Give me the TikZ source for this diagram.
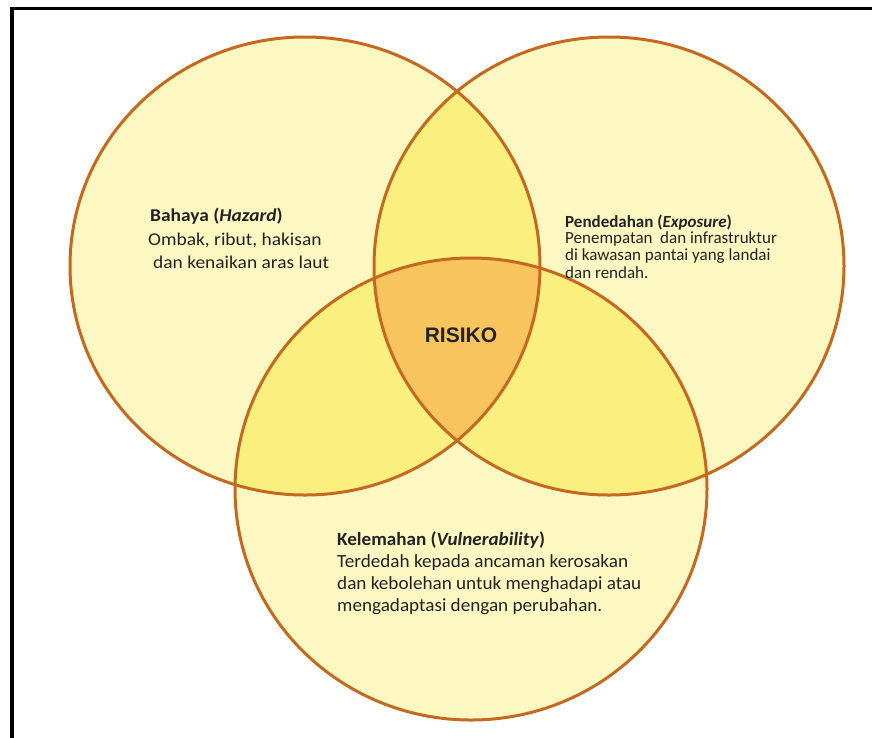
\documentclass[tikz,border=0pt]{standalone}
\usepackage{fontspec}
\setmainfont{Carlito}
\newfontfamily\risfont{Liberation Sans}
\newfontfamily\leftfont[FakeStretch=1.08]{Carlito}
\newfontfamily\botfont[FakeStretch=1.03]{Carlito}
\definecolor{pale}{HTML}{FDF8C2}
\definecolor{mid}{HTML}{FBEF80}
\definecolor{core}{HTML}{F8C45E}
\definecolor{rim}{HTML}{C4691F}
\definecolor{ink}{HTML}{232323}
\tikzset{
  rimline/.style={draw=rim, line width=3pt},
  txt/.style={anchor=base west, inner sep=0pt, text=ink},
  lefttxt/.style={txt, font=\leftfont\fontsize{18}{22}\selectfont},
  righttxt/.style={txt, font=\fontsize{17}{20}\selectfont},
  bottxt/.style={txt, font=\botfont\fontsize{18.6}{22}\selectfont},
}
\begin{document}
\begin{tikzpicture}[x=1pt,y=-1pt]
\useasboundingbox (0,0) rectangle (872,737);
\fill[white] (0,0) rectangle (872,737);
\coordinate (A) at (305,266);
\coordinate (B) at (609,266);
\coordinate (C) at (471,489);
\def\ca{(A) ellipse[x radius=235pt, y radius=229pt]}
\def\cb{(B) ellipse[x radius=235pt, y radius=229pt]}
\def\cc{(C) ellipse[x radius=236pt, y radius=231pt]}
% base fills
\fill[pale] \ca;
\fill[pale] \cb;
\fill[pale] \cc;
% pairwise overlaps
\begin{scope}
  \clip \ca;
  \fill[mid] \cb;
  \fill[mid] \cc;
\end{scope}
\begin{scope}
  \clip \cb;
  \fill[mid] \cc;
\end{scope}
% triple overlap
\begin{scope}
  \clip \ca;
  \clip \cb;
  \fill[core] \cc;
\end{scope}
% outlines
\draw[rimline] \ca;
\draw[rimline] \cb;
\draw[rimline] \cc;
% frame
\begin{scope}
  \clip (0,0) rectangle (872,737);
  \draw[line width=3.5pt] (12,760) -- (12,8.5) -- (890,8.5);
\end{scope}
% texts
\node[lefttxt] (h1) at (150,221) {\textbf{Bahaya (\textit{Hazard})}};
\node[lefttxt] (h2) at (148,245) {Ombak, ribut, hakisan};
\node[lefttxt] (h3) at (153,268) {dan kenaikan aras laut};
\node[righttxt] (e1) at (565,227) {\textbf{Pendedahan (\textit{Exposure})}};
\node[righttxt] (e2) at (565,243) {Penempatan\ \ dan infrastruktur};
\node[righttxt] (e3) at (565,260) {di kawasan pantai yang landai};
\node[righttxt] (e4) at (565,278) {dan rendah.};
\node[bottxt] (v1) at (337,545) {\textbf{Kelemahan (\textit{Vulnerability})}};
\node[bottxt] (v2) at (337,567) {Terdedah kepada ancaman kerosakan};
\node[bottxt] (v3) at (337,589) {dan kebolehan untuk menghadapi atau};
\node[bottxt] (v4) at (337,611) {mengadaptasi dengan perubahan.};
\node[anchor=base, inner sep=0pt, text=ink, font=\risfont\bfseries\fontsize{21}{24}\selectfont] (r) at (461,342) {RISIKO};
\end{tikzpicture}
\end{document}
